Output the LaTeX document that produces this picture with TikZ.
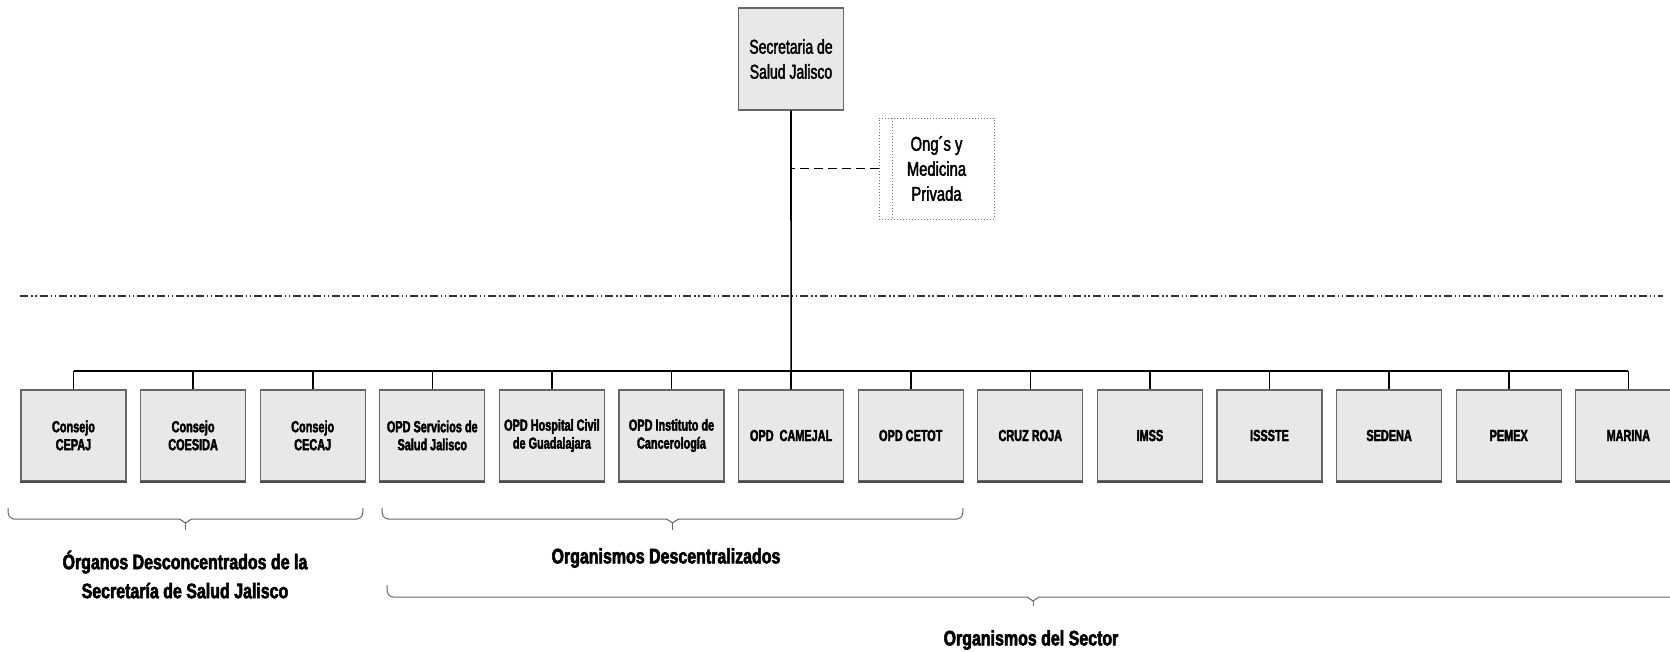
\documentclass[tikz,border=0pt]{standalone}
\usepackage{fontspec}
\usetikzlibrary{calc}
\newfontfamily\narr[FakeStretch=0.68,FakeBold=2.5]{Liberation Sans}
\newfontfamily\narrT[FakeStretch=0.70,FakeBold=2]{Liberation Sans}
\newfontfamily\narrO[FakeStretch=0.74,FakeBold=2]{Liberation Sans}
\newfontfamily\narrL[FakeStretch=0.76,FakeBold=2.5]{Liberation Sans}
\newcommand{\grpbrace}[5]{% xa, xb, ytop, end height, tip depth
  \draw[grpline] (#1,#3) .. controls (#1,{#3+#4-3}) and ({#1+1},{#3+#4-1}) .. ({#1+6},{#3+#4})
    -- ({(#1+#2)/2-6},{#3+#4}) -- ({(#1+#2)/2},{#3+#4+4}) -- ({(#1+#2)/2+6},{#3+#4})
    -- ({#2-6},{#3+#4}) .. controls ({#2-1},{#3+#4-1}) and (#2,{#3+#4-3}) .. (#2,#3);
  \draw[grpline] ({(#1+#2)/2},{#3+#4+4}) -- ({(#1+#2)/2},{#3+#4+#5});}
\begin{document}
\begin{tikzpicture}[x=1pt,y=-1pt,
  unit/.style={draw=black!60, line width=1.2pt, fill=black!9, minimum width=105pt,
    minimum height=91pt, inner sep=0pt, align=center,
    font=\narr\bfseries\fontsize{16}{18}\selectfont},
  topbox/.style={unit, minimum height=102pt, font=\narrT\fontsize{20}{25}\selectfont},
  ongbox/.style={draw=black!55, dotted, line width=1pt, fill=white, minimum width=115pt,
    minimum height=101pt, inner sep=0pt, align=center, font=\narrO\fontsize{20}{25}\selectfont},
  conn/.style={black, line width=1.6pt},
  lab/.style={align=center, inner sep=0pt, font=\narrL\bfseries\fontsize{21}{29}\selectfont},
  grpline/.style={draw=black!60, line width=1pt, line join=miter},
  sep/.style={black!80, line width=2pt,
    dash pattern=on 8pt off 3pt on 1.5pt off 2.5pt on 1.5pt off 3pt}]
\useasboundingbox (0,0) rectangle (1670,651);
\clip (0,0) rectangle (1670,651);

% top nodes
\node[topbox] (top) at (791,59) {Secretaria de\\Salud Jalisco};
\node[ongbox] (ong) at (936.5,168.5) {Ong´s y\\Medicina\\Privada};
\draw[black!55, dotted, line width=1pt] ([xshift=14pt]ong.north west) -- ([xshift=14pt]ong.south west);

% separator
\coordinate (sepL) at (20,296);
\coordinate (sepR) at (1663,296);
\draw[sep] (sepL) -- (sepR);

% units
\foreach [count=\i from 0] \t in {{Consejo\\CEPAJ},{Consejo\\COESIDA},{Consejo\\CECAJ},
  {OPD Servicios de\\Salud Jalisco},{OPD Hospital Civil\\de Guadalajara},
  {OPD Instituto de\\Cancerología},{OPD\ \ CAMEJAL},{OPD CETOT},{CRUZ ROJA},{IMSS},
  {ISSSTE},{SEDENA},{PEMEX},{MARINA}}
  \node[unit] (b\i) at ({73.5+119.6*\i},435.5) {\t};
\foreach \i in {0,...,13}
  \draw[black!70, line width=2pt] (b\i.south west) -- (b\i.south east);

% connectors
\coordinate (bus) at (0,371);
\draw[conn] (b0.north |- bus) -- (b13.north |- bus);
\foreach \i in {0,...,13}
  \draw[conn] (b\i.north) -- (b\i.north |- bus);
\draw[conn] (top.south) -- (b6.north);
\draw[black, line width=1.6pt, dash pattern=on 9pt off 5pt] (ong.west) -- (ong.west -| top.south);

% group braces
\grpbrace{8}{363}{508}{11}{11}
\grpbrace{382}{963}{508}{11}{11}
\grpbrace{387}{1679}{585}{12}{9}

\node[lab] (l1) at (185,574.5) {Órganos Desconcentrados de la\\Secretaría de Salud Jalisco};
\node[lab] (l2) at (666,558) {Organismos Descentralizados};
\node[lab] (l3) at (1031,640) {Organismos del Sector};
\end{tikzpicture}
\end{document}
